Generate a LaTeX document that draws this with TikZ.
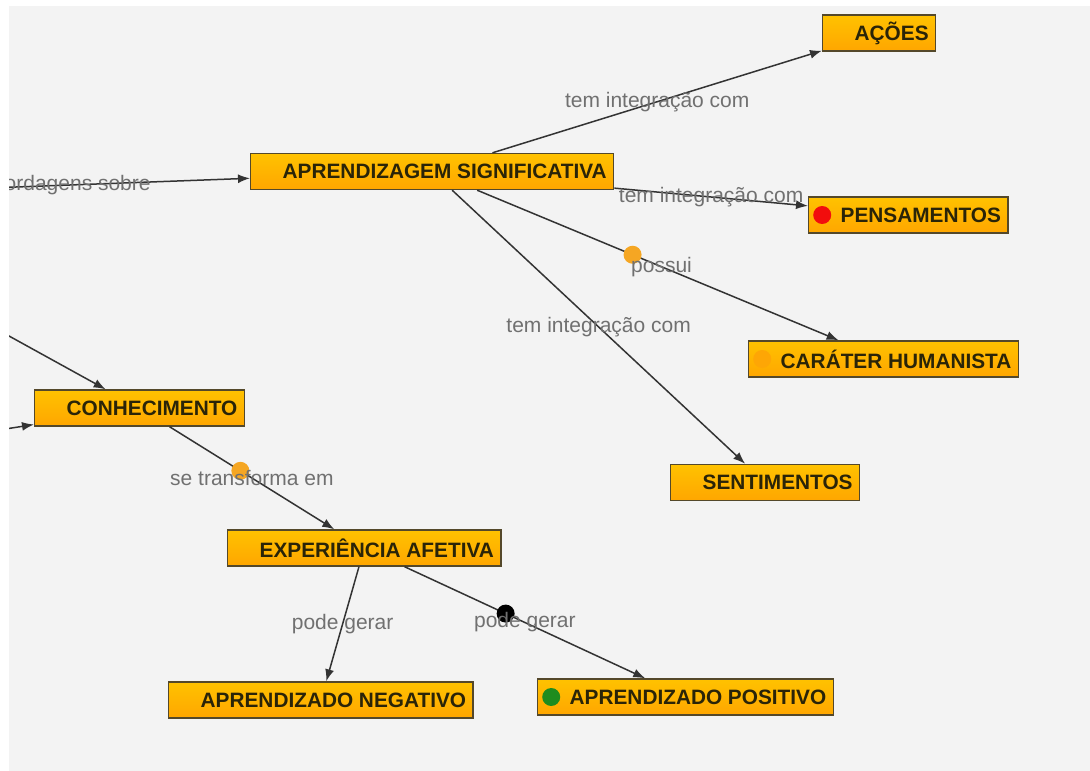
\documentclass[tikz,border=0pt]{standalone}
\usepackage{fontspec}
\setmainfont{Liberation Sans}
\usetikzlibrary{arrows.meta, positioning}
\definecolor{cmapbg}{HTML}{F3F3F3}
\definecolor{cmaptop}{HTML}{FFC200}
\definecolor{cmapbot}{HTML}{FFA600}
\definecolor{cmapedge}{HTML}{54482A}
\definecolor{cmaptext}{HTML}{2A2408}
\definecolor{cmaplabel}{HTML}{707070}
\definecolor{cmapline}{HTML}{333333}
\definecolor{dotorange}{HTML}{F5A623}
\definecolor{dotgreen}{HTML}{1E8C1E}
\definecolor{dotred}{HTML}{F20D0D}
\begin{document}
\begin{tikzpicture}[x=1pt, y=-1pt,
    concept/.style={draw=cmapedge, line width=1.4pt, top color=cmaptop, bottom color=cmapbot,
      anchor=west, minimum height=36pt, inner ysep=0pt, inner xsep=7pt,
      font=\fontsize{20.8}{24}\selectfont\bfseries, text=cmaptext,
      execute at begin node={\hspace*{25pt}}},
    lbl/.style={font=\fontsize{21}{24}\selectfont, text=cmaplabel, inner sep=0pt},
    dot/.style={circle, inner sep=0pt, minimum size=18pt},
    arr/.style={-{Latex[length=12pt, width=9pt]}, cmapline, line width=1.5pt}
  ]
  \useasboundingbox (0,0) rectangle (1090,771);
  \fill[white] (0,0) rectangle (1090,771);
  \fill[cmapbg] (9,6) rectangle (1090,771);
  \begin{scope}
    \clip (9,6) rectangle (1090,771);
    % concepts
    \node[concept] (acoes) at (822,33)  {AÇÕES};
    \node[concept] (apr)   at (250,171.5) {APRENDIZAGEM SIGNIFICATIVA};
    \node[concept] (pens)  at (808,215) {PENSAMENTOS};
    \node[concept] (car)   at (748,359) {CARÁTER HUMANISTA};
    \node[concept] (sent)  at (670,482.5) {SENTIMENTOS};
    \node[concept] (conh)  at (34,408)  {CONHECIMENTO};
    \node[concept] (exp)   at (227,548) {EXPERIÊNCIA AFETIVA};
    \node[concept] (neg)   at (168,700) {APRENDIZADO NEGATIVO};
    \node[concept] (posit) at (537,697) {APRENDIZADO POSITIVO};
    \node[dot, fill=dotred, right=5pt of pens.west] (pensdot) {};
    \node[dot, fill=cmapbot!85!dotorange, right=5pt of car.west] (cardot) {};
    \node[dot, fill=dotgreen, right=5pt of posit.west] (positdot) {};
    % links from outside the view
    \coordinate (src1) at (-118,192);
    \coordinate (src2) at (-20,320);
    \coordinate (src3) at (-20,433);
    \draw[arr] (src1) -- node[lbl] (l0) {abordagens sobre} (apr);
    \draw[arr] (src2) -- (conh);
    \draw[arr] (src3) -- (conh);
    % links
    \draw[arr] (apr) -- node[lbl] (l1) {tem integração com} (acoes);
    \draw[arr] (apr) -- node[lbl] (l2) {tem integração com} (pens);
    \draw[arr] (apr) -- node[dot, fill=dotorange, pos=0.43] (d1) {}
      node[lbl, pos=0.51] (l3) {possui} (car);
    \draw[arr] (apr) -- node[lbl] (l4) {tem integração com} (sent);
    \draw[arr] (conh) -- node[dot, fill=dotorange, pos=0.43] (d2) {}
      node[lbl] (l5) {se transforma em} (exp);
    \draw[arr] (exp) -- node[lbl] (l6) {pode gerar} (neg);
    \draw[arr] (exp) -- node[dot, fill=black, pos=0.42] (d3) {}
      node[lbl] (l7) {pode gerar} (posit);
  \end{scope}
\end{tikzpicture}
\end{document}
